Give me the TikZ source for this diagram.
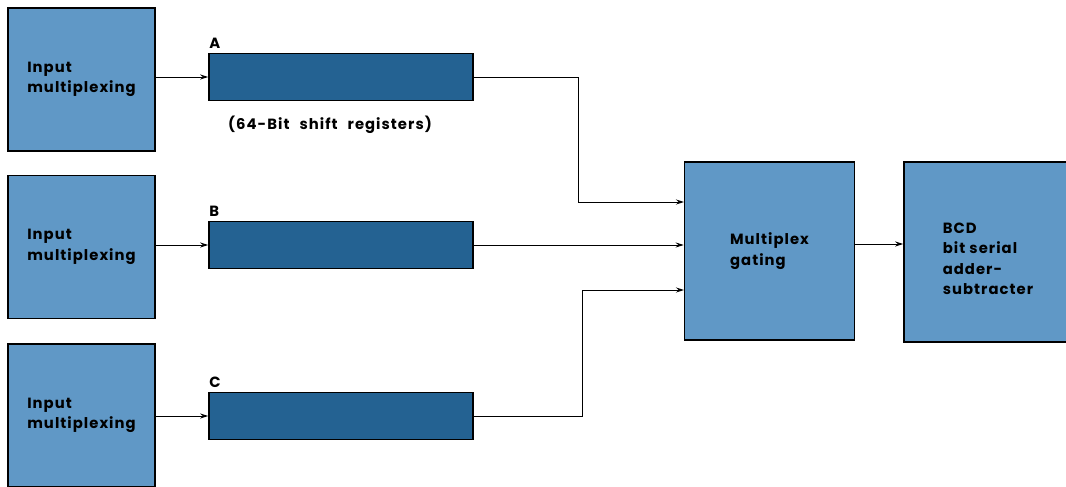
\documentclass[tikz,border=0pt]{standalone}
\usepackage{fontspec}
\setmainfont{Poppins}[LetterSpace=7]
\usetikzlibrary{arrows.meta}
\definecolor{boxblue}{RGB}{96,152,198}
\definecolor{regblue}{RGB}{36,98,146}
\begin{document}
\begin{tikzpicture}[x=1pt,y=-1pt,
    >={Stealth[length=8pt,width=5pt]},
    txt/.style={font=\fontsize{14.8}{20.5}\selectfont\bfseries,align=left},
    inbox/.style={draw,line width=1.6pt,fill=boxblue,minimum width=147pt,minimum height=143pt,txt},
    regbox/.style={draw,line width=1.6pt,fill=regblue,minimum width=264pt,minimum height=47pt},
    wire/.style={line width=0.9pt}]
  \useasboundingbox (0,0) rectangle (1066,487);
  \clip (0,0) rectangle (1066,487);
  % Eingangsblöcke
  \node[inbox] (in1) at (81.5,79.5) {Input\\multiplexing};
  \node[inbox] (in2) at (81.5,247) {Input\\multiplexing};
  \node[inbox] (in3) at (81.5,415.5) {Input\\multiplexing};
  % Schieberegister A, B, C
  \node[regbox] (regA) at (341,77) {};
  \node[regbox] (regB) at (341,245) {};
  \node[regbox] (regC) at (341,416) {};
  \node[txt,anchor=south west,inner sep=1pt] (labA) at ([yshift=3pt]regA.north west) {A};
  \node[txt,anchor=south west,inner sep=1pt] (labB) at ([yshift=3pt]regB.north west) {B};
  \node[txt,anchor=south west,inner sep=1pt] (labC) at ([yshift=3pt]regC.north west) {C};
  \node[txt,anchor=north] (cap) at ([xshift=-11pt,yshift=-11pt]regA.south) {(64-Bit\hspace{10pt}shift\hspace{10pt}registers)};
  % Multiplexer und Addierer
  \node[inbox,minimum width=170pt,minimum height=178pt] (mux) at (769.5,251) {Multiplex\\gating};
  \node[inbox,minimum width=168pt,minimum height=180pt] (bcd) at (988,252) {};
  \node[txt] (bcdtxt) at ([yshift=-7pt]bcd) {BCD\\bit serial\\adder-\\subtracter};
  % Verbindungen
  \coordinate (inA) at (684,202);
  \coordinate (inC) at (684,290);
  \draw[wire,->] (in1.east |- regA) -- (regA.west);
  \draw[wire,->] (in2.east |- regB) -- (regB.west);
  \draw[wire,->] (in3.east |- regC) -- (regC.west);
  \draw[wire,->] (regA.east) -- ++(105,0) |- (inA);
  \draw[wire,->] (regB.east) -- (mux.west |- regB.east);
  \draw[wire,->] (regC.east) -- ++(109,0) |- (inC);
  \draw[wire,->] ([yshift=7pt]mux.east) -- ([yshift=7pt]mux.east -| bcd.west);
\end{tikzpicture}
\end{document}
